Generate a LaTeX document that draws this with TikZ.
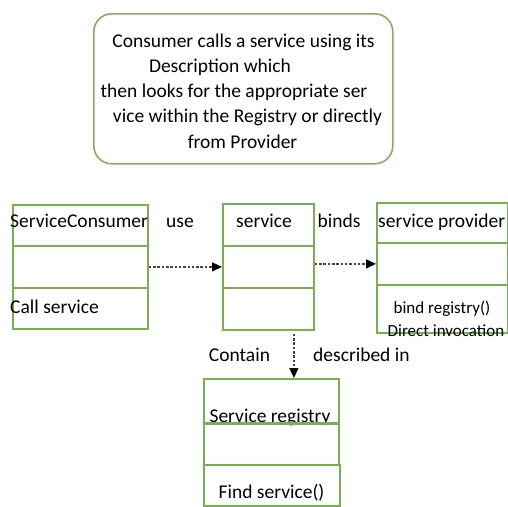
\documentclass[tikz,border=0pt]{standalone}
\usepackage{fontspec}
\setmainfont{Carlito}
\usetikzlibrary{arrows.meta}
\definecolor{boxgreen}{RGB}{122,176,84}
\definecolor{topgreen}{RGB}{130,176,96}
\definecolor{arrowgray}{RGB}{70,70,70}
\begin{document}
\begin{tikzpicture}[x=1pt,y=-1pt,
  comp/.style={draw=boxgreen, line width=1.8pt, inner sep=0pt, anchor=north west},
  big/.style={font=\fontsize{19.5}{25}\selectfont, anchor=base, inner sep=0pt},
  small/.style={font=\fontsize{17}{20}\selectfont, anchor=base, inner sep=0pt},
  dep/.style={draw=arrowgray, line width=1.4pt, dash pattern=on 2.5pt off 1.8pt,
    -{Triangle[length=10pt,width=9pt,black]}}]
\useasboundingbox (0,0) rectangle (508,506);
% description box
\node[draw=topgreen, line width=1.6pt, rounded corners=18pt, minimum width=299pt,
  minimum height=150pt, anchor=north west] (desc) at (93,13) {};
\node[big] (t1) at (243.5,47.5) {Consumer calls a service using its};
\node[big] (t2) at (220,72.5) {Description which};
\node[big] (t3) at (234,97.5) {then looks for the appropriate ser};
\node[big] (t4) at (247.5,122.5) {vice within the Registry or directly};
\node[big] (t5) at (242.5,148) {from Provider};
% consumer
\node[comp, minimum width=135pt, minimum height=41pt] (c1) at (12,204) {};
\node[comp, minimum width=135pt, minimum height=42pt] (c2) at (12,245) {};
\node[comp, minimum width=135pt, minimum height=41pt] (c3) at (12,287) {};
% service
\node[comp, minimum width=91pt, minimum height=42pt] (s1) at (222,203) {};
\node[comp, minimum width=91pt, minimum height=42pt] (s2) at (222,245) {};
\node[comp, minimum width=91pt, minimum height=42pt] (s3) at (222,287) {};
% provider
\node[comp, minimum width=131pt, minimum height=40pt] (p1) at (376,202) {};
\node[comp, minimum width=131pt, minimum height=42pt] (p2) at (376,242) {};
\node[comp, minimum width=131pt, minimum height=48pt] (p3) at (376,284) {};
% registry
\node[comp, minimum width=135pt, minimum height=44pt] (r1) at (203,378) {};
\node[comp, minimum width=135pt, minimum height=42pt] (r2) at (203,422) {};
\node[comp, minimum width=136pt, minimum height=41pt] (r3) at (203,464) {};
% labels
\node[big, anchor=base west] (lc1) at (10,227) {ServiceConsumer};
\node[big, anchor=base west] (lc3) at (10,313) {Call service};
\node[big] (luse) at (180,227) {use};
\node[big] (ls1) at (264,227) {service};
\node[big] (lbinds) at (339,227) {binds};
\node[big, anchor=base west] (lp1) at (378,227) {service provider};
\node[small] (lp3a) at (442,313) {bind registry()};
\node[small] (lp3b) at (446,336) {Direct invocation};
\node[big] (lcont) at (239.5,361) {Contain};
\node[big, anchor=base west] (ldesc) at (313,361) {described in};
\node[big] (lr1) at (270,422) {Service registry};
\node[big] (lr3) at (271.5,498) {Find service()};
\draw[boxgreen, line width=2.8pt] (r1.south west) -- (r1.south east);
% connectors
\draw[dep] (c2.east) -- (s2.west);
\draw[dep] (s2.east |- p2.west) -- (p2.west);
\coordinate (a3) at ([xshift=25.5pt]s3.south);
\draw[dep, shorten <=3pt] (a3) -- (a3 |- r1.north);
\end{tikzpicture}
\end{document}
